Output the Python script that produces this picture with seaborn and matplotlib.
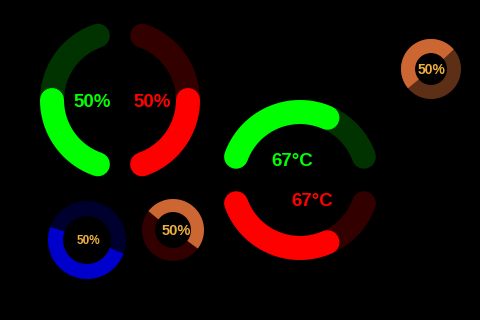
import numpy as np
import matplotlib
matplotlib.use("Agg")
import matplotlib.pyplot as plt
import seaborn as sns

# ---- data ----
arc_values = [50, 50, 67, 67]          # percent filled for the four arc gauges
arc_labels = ["50%", "50%", "67°C", "67°C"]
ring_values = [50, 50, 50]             # percent filled for the three ring gauges
ring_labels = ["50%", "50%", "50%"]

sns.set_theme(style="dark", rc={"figure.facecolor": "black", "axes.facecolor": "black"})
plt.rcParams["font.family"] = ["Liberation Sans", "DejaVu Sans"]

fig = plt.figure(figsize=(4.8, 3.2), dpi=100)
ax = fig.add_axes([0, 0, 1, 1])
ax.set_xlim(0, 480)
ax.set_ylim(320, 0)
ax.set_aspect("equal")
ax.axis("off")

PX = 72 / 100.0  # points per pixel


def arc_pts(cx, cy, r, a0, a1, n=200):
    t = np.radians(np.linspace(a0, a1, n))
    return cx + r * np.cos(t), cy - r * np.sin(t)


def draw_arc(cx, cy, r, a_start, a_end, frac, track, fill, width, cap):
    x, y = arc_pts(cx, cy, r, a_start, a_end)
    ax.plot(x, y, color=track, lw=width * PX, solid_capstyle=cap)
    a_fill = a_start + (a_end - a_start) * frac
    x, y = arc_pts(cx, cy, r, a_start, a_fill)
    ax.plot(x, y, color=fill, lw=width * PX, solid_capstyle=cap)


# arc gauges: (cx, cy, r, start, end, track, fill, text xy, text color)
arc_specs = [
    (120, 100, 68, 251, 109, "#003300", "#00ff00", (92, 100.5), "#00ff00"),
    (120, 100, 68, -71, 71, "#330000", "#ff0000", (152, 100.5), "#ff0000"),
    (300, 180, 68, 160, 20, "#003300", "#00ff00", (292, 160), "#00ff00"),
    (300, 180, 68, 200, 340, "#330000", "#ff0000", (312, 200), "#ff0000"),
]
for (cx, cy, r, a0, a1, tr, fl, txy, tc), v, lab in zip(arc_specs, arc_values, arc_labels):
    draw_arc(cx, cy, r, a0, a1, v / 100.0, tr, fl, 24, "round")
    ax.text(txy[0], txy[1], lab, color=tc, fontsize=13.5, fontweight="bold",
            ha="center", va="center_baseline")

# ring gauges: (cx, cy, r, start, direction, width, track, fill, text xy, fontsize)
ring_specs = [
    (87, 240, 31.5, 160, 1, 15, "#00002e", "#0000cc", (88, 240), 8.5),
    (173, 230, 24.5, 143, -1, 13, "#330000", "#cc6633", (176, 229.5), 10.5),
    (431, 69, 23, 40, 1, 14, "#5e2f17", "#cc6633", (432, 68), 10),
]
for (cx, cy, r, a0, d, w, tr, fl, txy, fs), v, lab in zip(ring_specs, ring_values, ring_labels):
    draw_arc(cx, cy, r, a0, a0 + d * 360, v / 100.0, tr, fl, w, "butt")
    ax.text(txy[0], txy[1], lab, color="#f0b040", fontsize=fs, fontweight="bold",
            ha="center", va="center_baseline")

fig.savefig("out.png", dpi=100, facecolor="black")
